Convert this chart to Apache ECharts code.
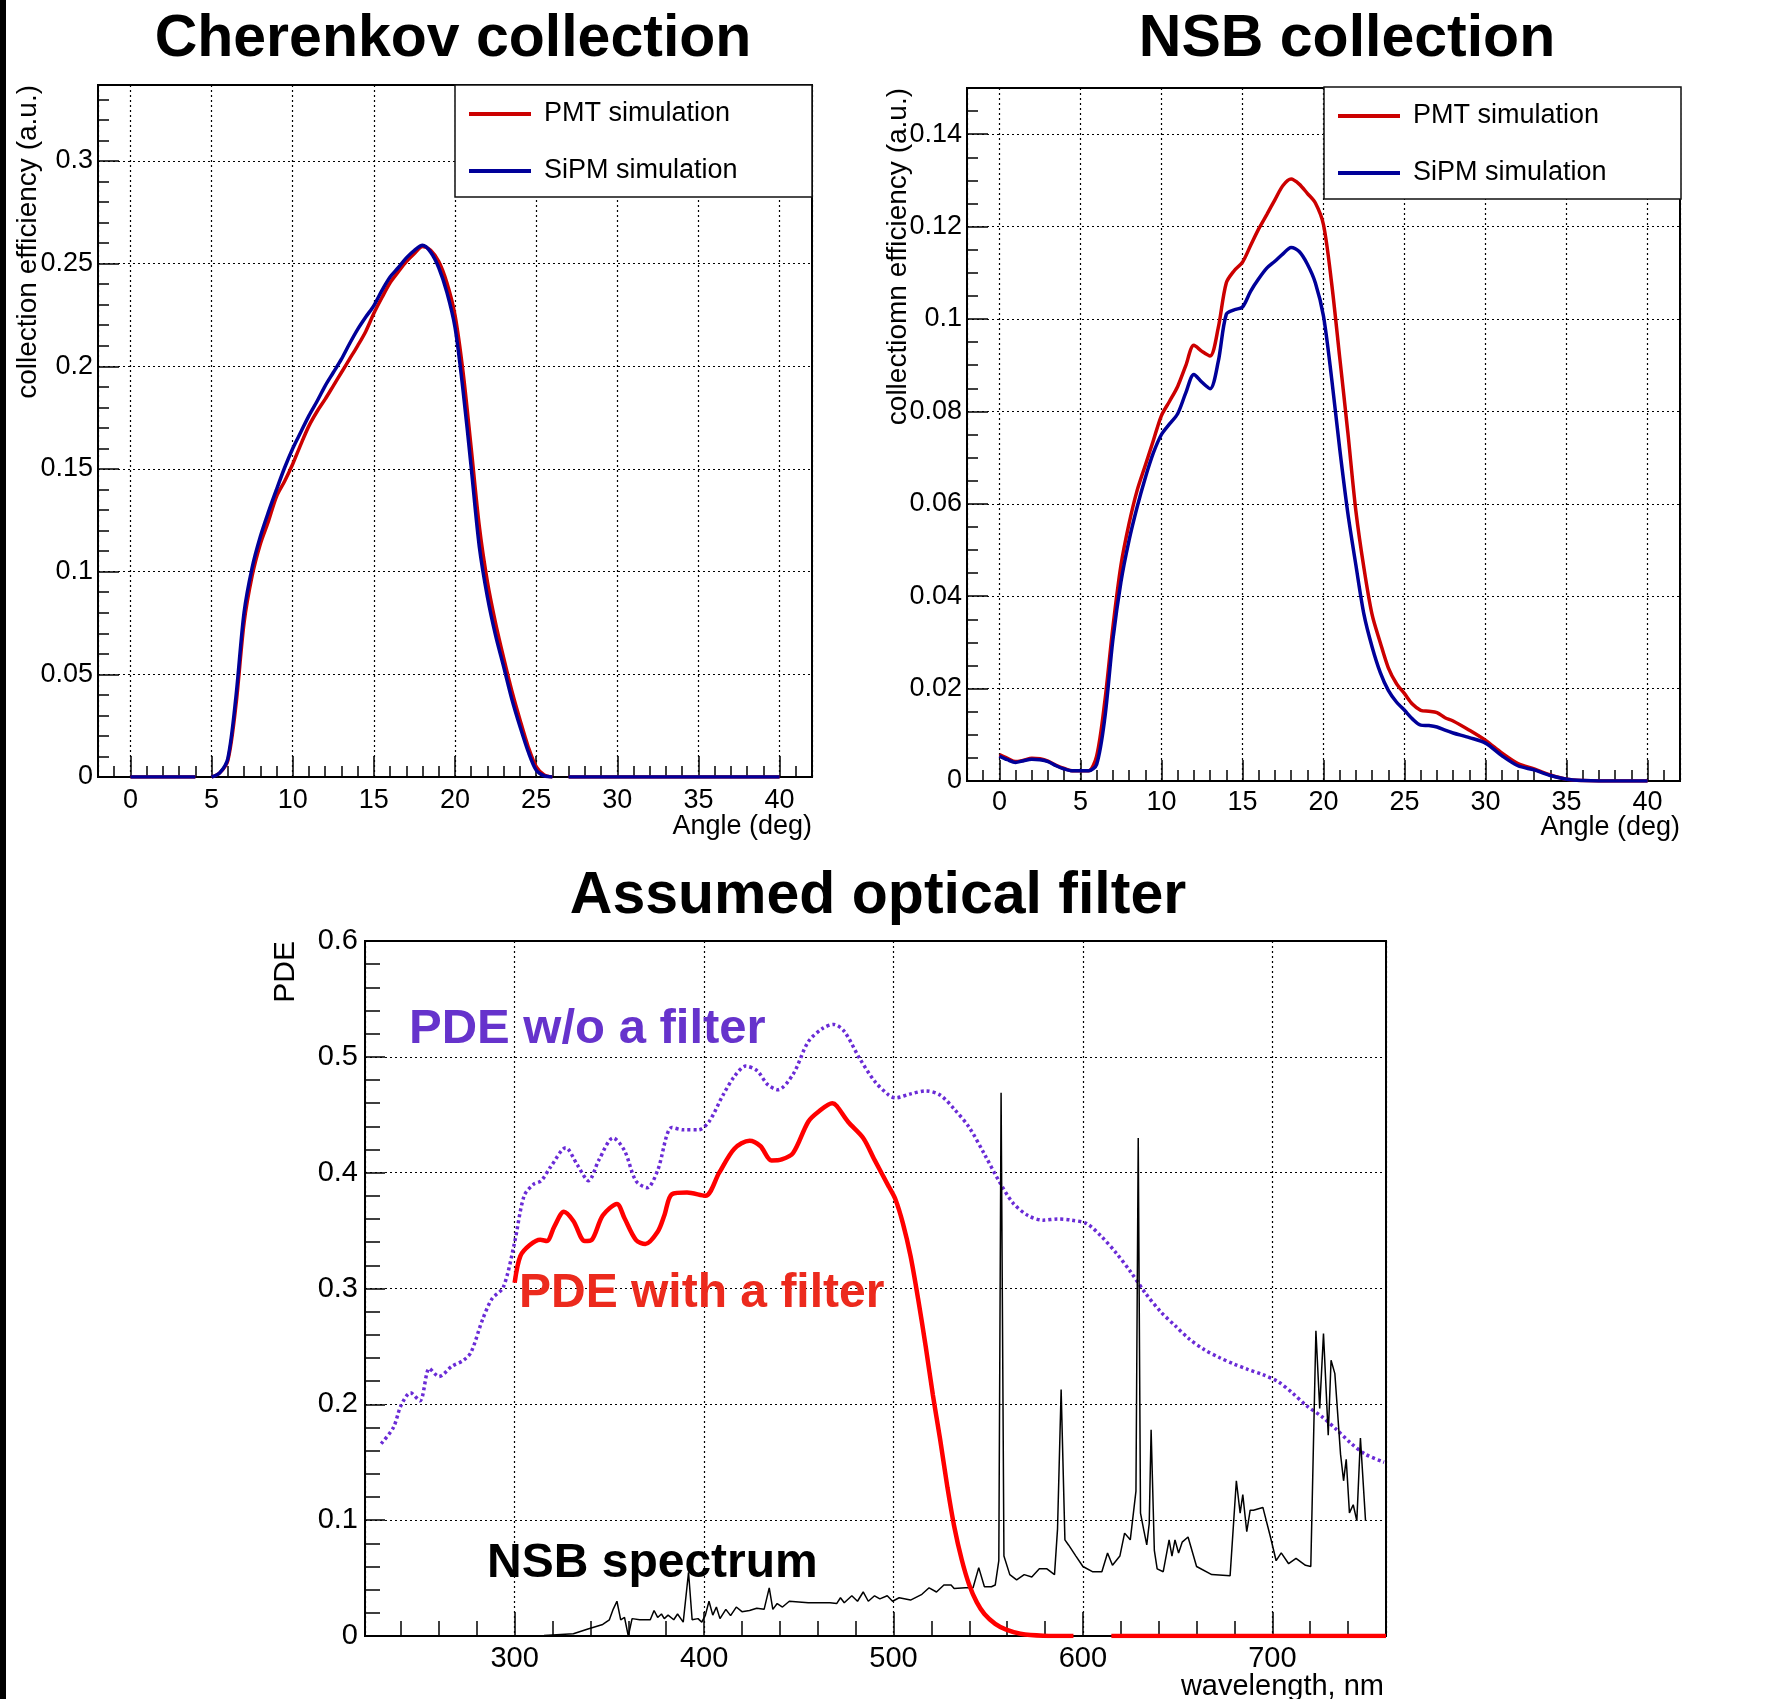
<!DOCTYPE html>
<html>
<head>
<meta charset="utf-8">
<script src="https://cdn.jsdelivr.net/npm/echarts@6/dist/echarts.min.js"></script>
<style>
html,body{margin:0;padding:0;background:#fff;}
#c{width:1773px;height:1699px;}
</style>
</head>
<body>
<div id="c"></div>
<script>
// ---------- Cherenkov collection (angle in deg) ----------
const cherAngle = [0, 4, 4.5,
  5, 5.5, 6, 6.5, 7, 7.5, 8, 8.5, 9, 9.5, 10, 10.5, 11, 11.5, 12, 12.5, 13, 13.5, 14, 14.5, 15,
  15.5, 16, 16.5, 17, 17.5, 18, 18.5, 19, 19.5, 20, 20.5, 21, 21.5, 22, 22.5, 23, 23.5, 24, 24.5,
  25, 25.5, 26, 26.5, 27, 40];
const cherPMT = [0, 0, null,
  0, 0.002, 0.008, 0.035, 0.075, 0.098, 0.1134, 0.1245, 0.1366, 0.144, 0.1524, 0.162, 0.171, 0.178,
  0.184, 0.1905, 0.197, 0.2035, 0.210, 0.217, 0.2258, 0.2335, 0.2407, 0.246, 0.251, 0.255, 0.2584,
  0.2565, 0.251, 0.2407, 0.225, 0.197, 0.160, 0.122, 0.095, 0.075, 0.058, 0.042, 0.028, 0.015,
  0.005, 0.001, 0, null, 0, 0];
const cherSiPM = [0, 0, null,
  0, 0.002, 0.009, 0.039, 0.080, 0.102, 0.117, 0.129, 0.140, 0.1506, 0.160, 0.168, 0.176, 0.183,
  0.1905, 0.197, 0.2035, 0.211, 0.218, 0.224, 0.2296, 0.237, 0.2435, 0.248, 0.2528, 0.2565, 0.2589,
  0.2556, 0.248, 0.236, 0.219, 0.188, 0.1506, 0.112, 0.0876, 0.069, 0.0537, 0.038, 0.0247, 0.0126,
  0.0034, 0.0005, 0, null, 0, 0];

// ---------- NSB collection (angle in deg) ----------
const nsbAngle = [0, 0.5, 1, 1.5, 2, 2.5, 3, 3.5, 4, 4.5, 5, 5.5, 6, 6.5, 7, 7.5, 8, 8.5, 9, 9.5,
  10, 10.5, 11, 11.5, 12, 12.5, 13, 13.5, 14, 14.5, 15, 15.5, 16, 16.5, 17, 17.5, 18, 18.5, 19, 19.5,
  20, 20.5, 21, 21.5, 22, 22.5, 23, 23.5, 24, 24.5, 25, 25.5, 26, 26.5, 27, 27.5, 28,
  29, 30, 31, 32, 33, 34, 35, 36, 37, 38, 39, 40];
const nsbPMT = [0.0057, 0.0049, 0.0042, 0.0045, 0.0049, 0.0048, 0.0043, 0.0034, 0.0027, 0.0022,
  0.0022, 0.0022, 0.0054, 0.0171, 0.0332, 0.0467, 0.0557, 0.0629, 0.0683, 0.0737,
  0.0791, 0.0822, 0.0854, 0.0899, 0.0943, 0.093, 0.092, 0.098, 0.1078, 0.1105,
  0.1123, 0.1159, 0.1195, 0.1226, 0.1258, 0.1289, 0.1303, 0.1292, 0.1272, 0.1251,
  0.1204, 0.1078, 0.0917, 0.0755, 0.0584, 0.046, 0.036, 0.030, 0.0245, 0.0211,
  0.0189, 0.0166, 0.0153, 0.0151, 0.0148, 0.0137, 0.013,
  0.011, 0.0088, 0.0061, 0.0038, 0.0026, 0.0013, 0.0004, 0.0001, 0, 0, 0, 0];
const nsbSiPM = [0.0054, 0.0046, 0.0040, 0.0044, 0.0047, 0.0046, 0.0042, 0.0033, 0.0026, 0.0022,
  0.0022, 0.0022, 0.0036, 0.0135, 0.0305, 0.0431, 0.0521, 0.0593, 0.0656, 0.071,
  0.075, 0.0773, 0.0795, 0.084, 0.088, 0.0863, 0.0849, 0.0907, 0.101, 0.102,
  0.1026, 0.106, 0.1087, 0.111, 0.1125, 0.1141, 0.1155, 0.1146, 0.1119, 0.1078,
  0.1006, 0.0872, 0.0719, 0.058, 0.0467, 0.036, 0.029, 0.0235, 0.0196, 0.0171,
  0.0153, 0.0134, 0.0121, 0.012, 0.0117, 0.011, 0.0104,
  0.0094, 0.0082, 0.0055, 0.0033, 0.0024, 0.0012, 0.0004, 0.0001, 0, 0, 0, 0];

// ---------- Assumed optical filter (wavelength in nm) ----------
const pdeNoFilterWl = [229.5, 236, 240, 245, 250, 255, 260, 267, 273, 277, 283, 288, 294, 300, 305,
  310, 314, 319, 327, 333, 339, 344.5, 352, 358, 364, 370, 375.5, 383, 389, 397, 402.6, 410, 416,
  422, 428, 433.6, 439, 447, 455, 462.7, 468.5, 474, 482, 490, 497.5, 501, 509, 517, 524.6, 532,
  540, 548, 555.6, 563, 571, 579, 586.6, 594, 602, 610, 617.6, 625, 633, 641, 648.6, 656, 664,
  672, 679.6, 687, 695, 703, 710.5, 718, 726, 734, 741.5, 749, 759];
const pdeNoFilter = [0.166, 0.180, 0.199, 0.21, 0.203, 0.231, 0.224, 0.233, 0.238, 0.245, 0.273,
  0.291, 0.301, 0.34, 0.38, 0.39, 0.393, 0.405, 0.4215, 0.407, 0.393, 0.411, 0.43, 0.419, 0.393,
  0.387, 0.402, 0.439, 0.437, 0.437, 0.444, 0.467, 0.483, 0.492, 0.488, 0.476, 0.4716, 0.485,
  0.513, 0.5247, 0.528, 0.522, 0.499, 0.479, 0.467, 0.4646, 0.468, 0.4706, 0.467, 0.455, 0.439,
  0.416, 0.393, 0.374, 0.363, 0.359, 0.36, 0.359, 0.356, 0.3445, 0.3306, 0.3148, 0.296, 0.280,
  0.268, 0.2566, 0.2473, 0.2404, 0.2349, 0.2302, 0.2256, 0.2196, 0.210, 0.1988, 0.1896, 0.178,
  0.1664, 0.157, 0.150];

const pdeFilterWl = [300, 303, 308, 313.5, 317, 321, 326, 331, 337, 340.7, 346.5, 354, 358, 364,
  369, 375.5, 379, 383, 391, 400.7, 408, 416, 424, 429.7, 435.6, 441, 447, 455, 460.7, 467.7, 470,
  476, 484, 490, 497.5, 501, 505, 509, 513, 517, 520.8, 524.6, 528.5, 532, 536, 540, 544, 548,
  553.7, 559.5, 567, 579, 595, 605, 615, 760];
const pdeFilter = [0.305, 0.328, 0.3375, 0.342, 0.341, 0.3537, 0.3662, 0.3583, 0.341, 0.342, 0.363,
  0.373, 0.3606, 0.342, 0.3384, 0.349, 0.363, 0.3814, 0.3828, 0.38, 0.40, 0.4207, 0.4276, 0.423,
  0.4105, 0.4114, 0.417, 0.444, 0.453, 0.46, 0.4577, 0.444, 0.430, 0.411, 0.388, 0.377, 0.356,
  0.328, 0.291, 0.25, 0.208, 0.170, 0.128, 0.095, 0.066, 0.044, 0.029, 0.019, 0.0105, 0.0055,
  0.002, 0.0003, 0, null, 0, 0];

const nsbWl = [300, 315.5, 331, 338.7, 346.5, 350, 352, 354, 356, 358, 360, 362, 366, 371.6, 373.6,
  375.5, 377.5, 379, 381, 384, 386, 389, 391.8, 393.7, 396.8, 398.8, 400.7, 402.6, 404.6, 406.5,
  408.4, 411.5, 414, 417, 420, 424, 427.8, 431.7, 434.4, 436.3, 438.6, 441.4, 445, 455, 466.5,
  470, 472, 474, 478, 481, 484, 486.7, 490, 492.8, 496.7, 499.5, 503, 509, 515, 518.8, 522.7,
  526.6, 530.4, 532, 538, 542, 545, 548, 551.7, 553.7, 555.6, 556.8, 558.3, 561.4, 565, 569, 573,
  577, 581, 585, 586.6, 588.5, 590.5, 592.4, 596.3, 600, 605, 610, 613, 615.6, 619.5, 622, 625,
  628, 629.2, 630.4, 632, 633.7, 635, 636, 637.7, 639.2, 642.4, 645.5, 647, 648.6, 650.5, 652.4,
  655.5, 660, 668, 677.7, 681, 683, 684.4, 686.5, 688.3, 690, 695, 699, 702, 704.7, 708.6, 712.5,
  717.5, 720.3, 723, 725, 727, 729.5, 731, 733, 736, 737.6, 739, 740.7, 742.7, 744.6, 746.5, 749.2];
const nsbSpec = [0, 0.0005, 0.002, 0.006, 0.010, 0.014, 0.023, 0.030, 0.014, 0.016, 0.0, 0.015,
  0.014, 0.014, 0.022, 0.016, 0.019, 0.015, 0.018, 0.014, 0.019, 0.012, 0.055, 0.014, 0.015, 0.012,
  0.018, 0.030, 0.018, 0.025, 0.015, 0.023, 0.0176, 0.025, 0.021, 0.022, 0.024, 0.023, 0.0416,
  0.023, 0.028, 0.025, 0.030, 0.0287, 0.0287, 0.028, 0.033, 0.0287, 0.0347, 0.030, 0.038, 0.030,
  0.0347, 0.032, 0.0347, 0.030, 0.033, 0.031, 0.036, 0.0416, 0.038, 0.044, 0.044, 0.041, 0.0416,
  0.0416, 0.059, 0.0425, 0.0425, 0.044, 0.065, 0.469, 0.069, 0.053, 0.0485, 0.053, 0.051, 0.058,
  0.058, 0.053, 0.0925, 0.2127, 0.083, 0.0786, 0.069, 0.060, 0.0555, 0.0555, 0.0717, 0.061, 0.069,
  0.0888, 0.083, 0.125, 0.43, 0.106, 0.0925, 0.0786, 0.097, 0.178, 0.074, 0.058, 0.0555, 0.083,
  0.069, 0.083, 0.0717, 0.081, 0.0855, 0.060, 0.053, 0.052, 0.134, 0.106, 0.122, 0.090, 0.1086,
  0.1086, 0.111, 0.0855, 0.065, 0.0717, 0.0624, 0.067, 0.061, 0.060, 0.2635, 0.1965, 0.2612,
  0.1734, 0.238, 0.2265, 0.157, 0.134, 0.1526, 0.1063, 0.1133, 0.0994, 0.171, 0.0994];

// ---------- styling ----------
const FONT = '"Liberation Sans", Arial, Helvetica, sans-serif';
const RED = '#cc0000', BLUE = '#000099';
const zip = (xs, ys) => xs.map((x, i) => [x, ys[i]]);

function axis(o) {
  return {
    type: 'value', gridIndex: o.grid, min: o.min, max: o.max,
    minInterval: o.step, maxInterval: o.step,
    axisLine: {show: true, onZero: false, lineStyle: {color: '#000', width: 2}},
    axisTick: {show: true, inside: true, length: o.major, lineStyle: {color: '#000', width: 1.5}},
    minorTick: {show: true, splitNumber: o.minor, length: o.minorLen, lineStyle: {color: '#000', width: 1.5}},
    axisLabel: {show: true, showMinLabel: o.showMin, showMaxLabel: o.showMax, color: '#000',
      fontFamily: FONT, fontSize: o.fs, margin: o.margin},
    splitLine: {show: true, lineStyle: {color: '#000', width: 1.2, type: [2, 3]}},
    minorSplitLine: {show: false}
  };
}

function legend(left, top) {
  return {
    left: left, top: top, orient: 'vertical', selectedMode: false,
    data: ['PMT simulation', 'SiPM simulation'],
    icon: 'rect', itemWidth: 62, itemHeight: 4, itemGap: 15,
    padding: [8, 8, 5, 14],
    backgroundColor: '#fff', borderColor: '#111', borderWidth: 1.5, borderRadius: 0,
    textStyle: {fontSize: 27, fontFamily: FONT, color: '#000', lineHeight: 30, width: 260, padding: [12, 0, 0, 8]}
  };
}

function line(name, xi, xs, ys, color, width, extra) {
  return Object.assign({
    type: 'line', name: name, xAxisIndex: xi, yAxisIndex: xi, data: zip(xs, ys),
    symbol: 'none', showSymbol: false, connectNulls: false, color: color,
    lineStyle: {color: color, width: width}, smooth: 0.3, animation: false
  }, extra || {});
}

function txt(text, x, y, font, fill, align, rot) {
  const e = {type: 'text', x: x, y: y, z: 100,
    style: {text: text, font: font, fill: fill, textAlign: align, align: align,
      textVerticalAlign: 'middle', verticalAlign: 'middle'}};
  if (rot) e.rotation = rot;
  return e;
}

const chart = echarts.init(document.getElementById('c'), null, {renderer: 'canvas'});
const option = {
  animation: false,
  backgroundColor: '#fff',
  grid: [
    {left: 98, top: 85, width: 714, height: 692, show: true, borderColor: '#000', borderWidth: 2, backgroundColor: 'transparent'},
    {left: 967, top: 88, width: 713, height: 693, show: true, borderColor: '#000', borderWidth: 2, backgroundColor: 'transparent'},
    {left: 365, top: 941, width: 1021, height: 695, show: true, borderColor: '#000', borderWidth: 2, backgroundColor: 'transparent'}
  ],
  xAxis: [
    axis({grid: 0, min: -2, max: 42, step: 5, major: 21, minor: 5, minorLen: 11, showMin: false, showMax: false, fs: 27, margin: 10}),
    axis({grid: 1, min: -2, max: 42, step: 5, major: 21, minor: 5, minorLen: 11, showMin: false, showMax: false, fs: 27, margin: 8}),
    axis({grid: 2, min: 221, max: 760, step: 100, major: 24, minor: 5, minorLen: 15, showMin: false, showMax: false, fs: 29, margin: 8})
  ],
  yAxis: [
    axis({grid: 0, min: 0, max: 0.337, step: 0.05, major: 21, minor: 5, minorLen: 11, showMin: true, showMax: false, fs: 27, margin: 5}),
    axis({grid: 1, min: 0, max: 0.15, step: 0.02, major: 21, minor: 4, minorLen: 11, showMin: true, showMax: false, fs: 27, margin: 5}),
    axis({grid: 2, min: 0, max: 0.6, step: 0.1, major: 20, minor: 5, minorLen: 15, showMin: true, showMax: true, fs: 29, margin: 7})
  ],
  legend: [legend(455, 85), legend(1324, 87)],
  series: [
    line('PMT simulation', 0, cherAngle, cherPMT, RED, 3.5, {z: 3}),
    line('SiPM simulation', 0, cherAngle, cherSiPM, BLUE, 3.5, {z: 4}),
    line('PMT simulation', 1, nsbAngle, nsbPMT, RED, 3.5, {z: 3}),
    line('SiPM simulation', 1, nsbAngle, nsbSiPM, BLUE, 3.5, {z: 4}),
    line('PDE w/o a filter', 2, pdeNoFilterWl, pdeNoFilter, '#6a2bd6', 3.5,
      {z: 2, lineStyle: {color: '#6a2bd6', width: 3.5, type: [3, 3]}}),
    line('NSB spectrum', 2, nsbWl, nsbSpec, '#000', 1.5, {z: 3, smooth: false}),
    line('PDE with a filter', 2, pdeFilterWl, pdeFilter, '#ff0000', 4.5, {z: 4})
  ],
  graphic: [
    {type: 'rect', shape: {x: 0, y: 0, width: 6, height: 1699}, style: {fill: '#000'}, z: 100},
    txt('Cherenkov collection', 453, 40, 'bold 59px ' + FONT, '#000', 'center'),
    txt('NSB collection', 1347, 40, 'bold 59px ' + FONT, '#000', 'center'),
    txt('Assumed optical filter', 878, 897, 'bold 59px ' + FONT, '#000', 'center'),
    txt('collection efficiency (a.u.)', 28, 85, '28px ' + FONT, '#000', 'right', Math.PI / 2),
    txt('collectiomn efficiency (a.u.)', 898, 88, '28px ' + FONT, '#000', 'right', Math.PI / 2),
    txt('PDE', 286, 941, '30px ' + FONT, '#000', 'right', Math.PI / 2),
    txt('Angle (deg)', 812, 827, '27px ' + FONT, '#000', 'right'),
    txt('Angle (deg)', 1680, 828, '27px ' + FONT, '#000', 'right'),
    txt('wavelength, nm', 1384, 1687, '29px ' + FONT, '#000', 'right'),
    txt('PDE w/o a filter', 409, 1029, 'bold 49px ' + FONT, '#6633cc', 'left'),
    txt('PDE with a filter', 519, 1294, 'bold 48px ' + FONT, '#ec2a1d', 'left'),
    txt('NSB spectrum', 487, 1564, 'bold 48px ' + FONT, '#000', 'left')
  ]
};
chart.setOption(option);
</script>
</body>
</html>
